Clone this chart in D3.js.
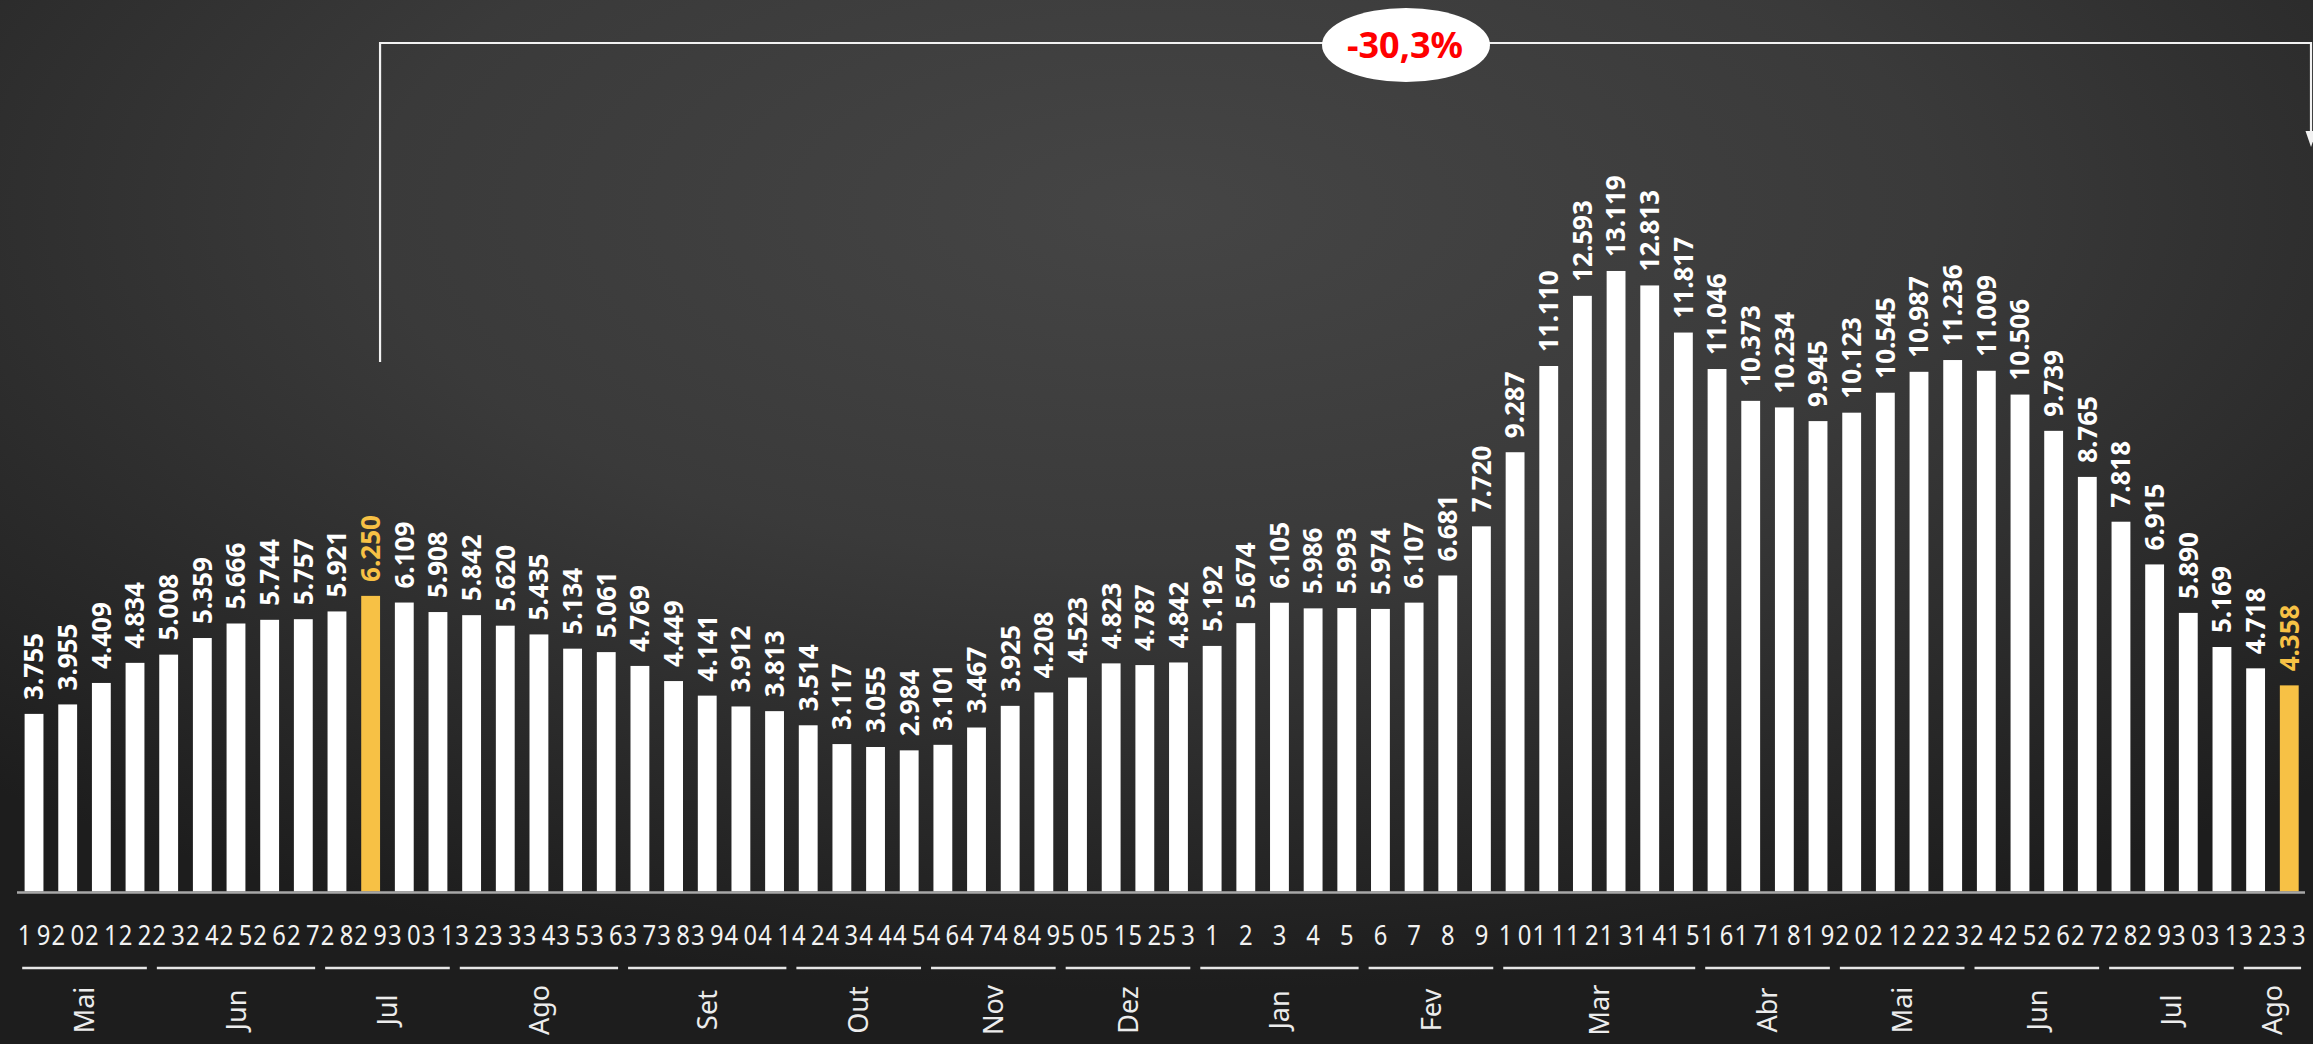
<!DOCTYPE html>
<html>
<head>
<meta charset="utf-8">
<script src="https://cdn.jsdelivr.net/npm/d3@7"></script>
<style>
  html, body { margin: 0; padding: 0; background: #222; overflow: hidden; }
  svg { display: block; }
</style>
</head>
<body>
<div id="chart"></div>
<script>
const W = 2313, H = 1044;

// epidemiological weeks, 2020 w19 -> 2021 w33
const weeks = ["19","20","21","22","23","24","25","26","27","28","29","30","31","32","33","34","35",
  "36","37","38","39","40","41","42","43","44","45","46","47","48","49","50","51","52","53",
  "1","2","3","4","5","6","7","8","9","10","11","12","13","14","15","16","17","18","19","20",
  "21","22","23","24","25","26","27","28","29","30","31","32","33"];

const values = [3755, 3955, 4409, 4834, 5008, 5359, 5666, 5744, 5757, 5921, 6250, 6109, 5908, 5842,
  5620, 5435, 5134, 5061, 4769, 4449, 4141, 3912, 3813, 3514, 3117, 3055, 2984, 3101, 3467, 3925,
  4208, 4523, 4823, 4787, 4842, 5192, 5674, 6105, 5986, 5993, 5974, 6107, 6681, 7720, 9287, 11110,
  12593, 13119, 12813, 11817, 11046, 10373, 10234, 9945, 10123, 10545, 10987, 11236, 11009, 10506,
  9739, 8765, 7818, 6915, 5890, 5169, 4718, 4358];

const highlighted = [10, 67];

const months = ["Mai","Jun","Jul","Ago","Set","Out","Nov","Dez","Jan","Fev","Mar","Abr","Mai","Jun","Jul","Ago"];
const monthWeeks = [4, 5, 4, 5, 5, 4, 4, 4, 5, 4, 6, 4, 4, 4, 4, 2];

const changeLabel = "-30,3%";

const gold = "#f7c145";
const fmt = d3.formatLocale({decimal: ",", thousands: ".", grouping: [3], currency: ["R$", ""]}).format(",d");

const svg = d3.select("#chart").append("svg")
  .attr("width", W)
  .attr("height", H);

const defs = svg.append("defs");
const grad = defs.append("radialGradient")
  .attr("id", "bg")
  .attr("cx", 0.5).attr("cy", 0.2).attr("r", 0.75);
grad.append("stop").attr("offset", 0).attr("stop-color", "#454545");
grad.append("stop").attr("offset", 0.45).attr("stop-color", "#3a3a3a");
grad.append("stop").attr("offset", 0.75).attr("stop-color", "#2a2a2a");
grad.append("stop").attr("offset", 1).attr("stop-color", "#1d1d1d");

svg.append("rect")
  .attr("width", W).attr("height", H)
  .attr("fill", "url(#bg)");

const baseY = 891.5;

const x = d3.scaleBand()
  .domain(d3.range(values.length))
  .range([17.2, 2306.1])
  .paddingInner(0.44)
  .paddingOuter(0.22);

const y = d3.scaleLinear()
  .domain([0, 14000])
  .range([baseY, baseY - 14000 * 0.0473]);

// bars
svg.append("g").selectAll("rect")
  .data(values)
  .join("rect")
  .attr("x", (d, i) => x(i))
  .attr("y", d => y(d))
  .attr("width", x.bandwidth())
  .attr("height", d => y(0) - y(d))
  .attr("fill", (d, i) => highlighted.includes(i) ? gold : "#ffffff");

// value labels
svg.append("g").selectAll("text")
  .data(values)
  .join("text")
  .attr("transform", (d, i) => `translate(${x(i) + x.bandwidth() / 2},${y(d) - 14}) rotate(-90)`)
  .attr("dy", "0.36em")
  .attr("text-anchor", "start")
  .style("font-family", "'Noto Sans', sans-serif")
  .style("font-weight", "bold")
  .style("font-size", "26px")
  .attr("fill", (d, i) => highlighted.includes(i) ? gold : "#ffffff")
  .text(d => fmt(d));

// baseline
svg.append("line")
  .attr("x1", 17).attr("x2", 2305)
  .attr("y1", baseY + 1).attr("y2", baseY + 1)
  .attr("stroke", "#a8a8a8")
  .attr("stroke-width", 2.5);

// week tick labels: narrow digits spread over the slot
const digitGap = 19;
const squeeze = 0.85;
const weekG = svg.append("g").selectAll("g")
  .data(weeks)
  .join("g")
  .attr("transform", (d, i) => `translate(${x(i) + x.bandwidth() / 2},945) scale(${squeeze},1)`);

weekG.selectAll("text")
  .data(d => d.split("").map((c, j, a) => ({c, off: j - (a.length - 1) / 2})))
  .join("text")
  .attr("x", d => d.off * digitGap / squeeze)
  .attr("text-anchor", "middle")
  .style("font-family", "'Noto Sans', sans-serif")
  .style("font-size", "28px")
  .attr("fill", "#f2f2f2")
  .text(d => d.c);

// month groups
let start = 0;
const groups = months.map((m, k) => {
  const g = {name: m, first: start, last: start + monthWeeks[k] - 1};
  start += monthWeeks[k];
  return g;
});

const step = x.step();
const gx0 = g => x(g.first) - (step - x.bandwidth()) / 2;
const gx1 = g => x(g.last) + x.bandwidth() + (step - x.bandwidth()) / 2;

svg.append("g").selectAll("line")
  .data(groups)
  .join("line")
  .attr("x1", g => gx0(g) + 5)
  .attr("x2", g => gx1(g) - 5)
  .attr("y1", 968).attr("y2", 968)
  .attr("stroke", "#e6e6e6")
  .attr("stroke-width", 2.5);

svg.append("g").selectAll("text")
  .data(groups)
  .join("text")
  .attr("transform", g => `translate(${(gx0(g) + gx1(g)) / 2},1010) rotate(-90)`)
  .attr("dy", "0.36em")
  .attr("text-anchor", "middle")
  .style("font-family", "'Noto Sans', sans-serif")
  .style("font-size", "27px")
  .attr("fill", "#ececec")
  .text(g => g.name);

// variation bracket between highlighted weeks
const bx0 = x(highlighted[0]) + x.bandwidth();
const bx1 = W - 2;
const topY = 43;

svg.append("path")
  .attr("d", `M${bx0},362 V${topY} H${bx1} V132`)
  .attr("fill", "none")
  .attr("stroke", "#f2f2f2")
  .attr("stroke-width", 2.2);

svg.append("path")
  .attr("d", `M${bx1 - 5.5},131 L${bx1 + 5.5},131 L${bx1},147 Z`)
  .attr("fill", "#f2f2f2");

svg.append("ellipse")
  .attr("cx", 1406).attr("cy", 45)
  .attr("rx", 84).attr("ry", 37)
  .attr("fill", "#ffffff");

svg.append("text")
  .attr("x", 1405).attr("y", 45)
  .attr("dy", "0.36em")
  .attr("text-anchor", "middle")
  .style("font-family", "'Noto Sans', sans-serif")
  .style("font-weight", "bold")
  .style("font-size", "36px")
  .attr("fill", "#ff0000")
  .text(changeLabel);
</script>
</body>
</html>
